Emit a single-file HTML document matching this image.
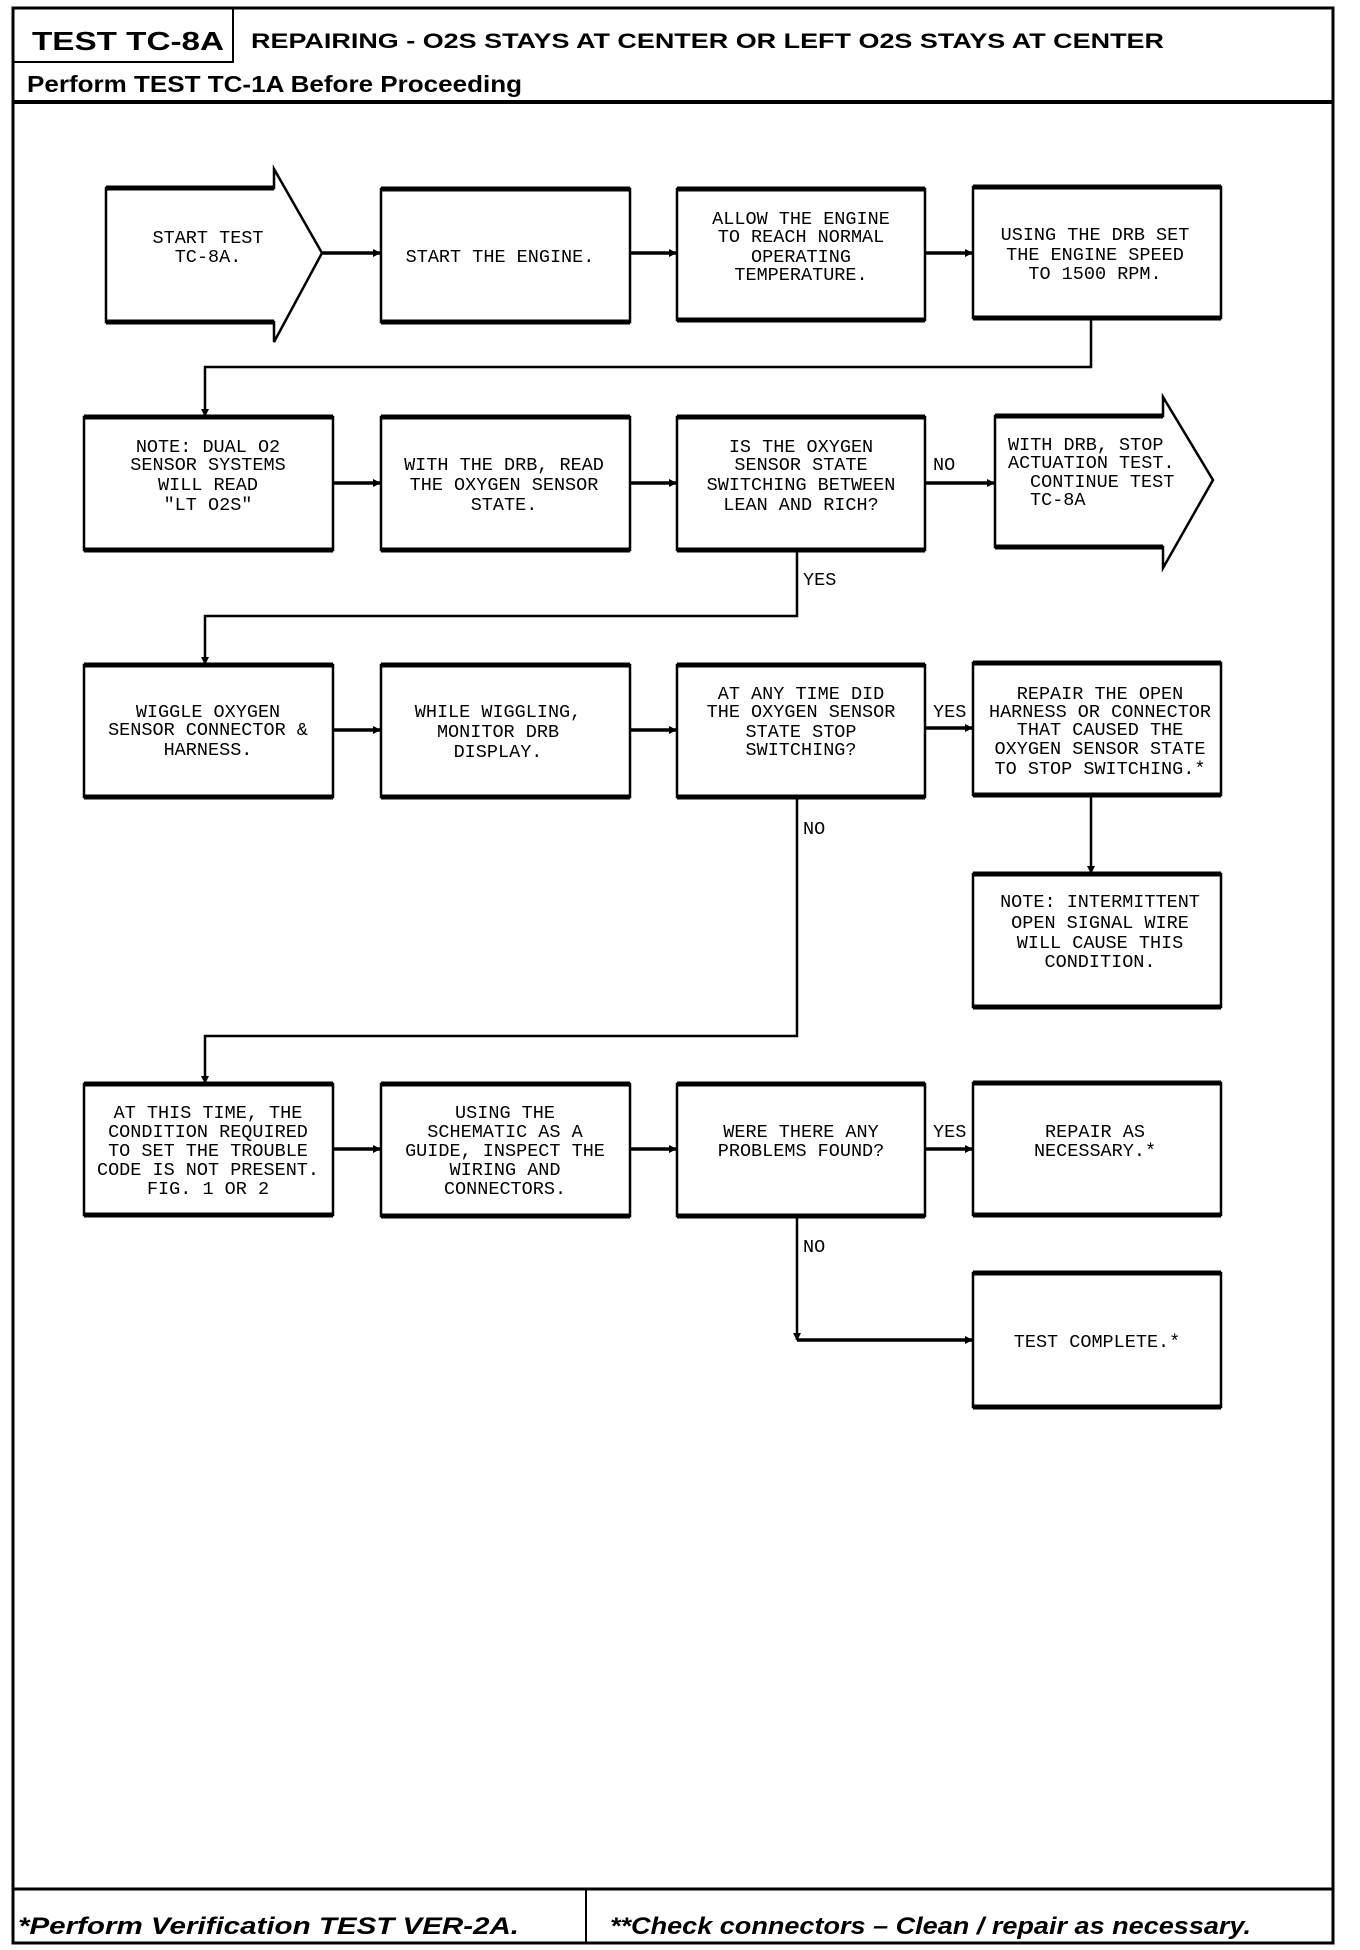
<!DOCTYPE html>
<html><head><meta charset="utf-8"><style>
html,body{margin:0;padding:0;background:#fff}
svg{display:block}
.h{font-family:"Liberation Sans",sans-serif;font-weight:bold;fill:#000}
.f{font-family:"Liberation Sans",sans-serif;font-weight:bold;font-style:italic;fill:#000}
.t{font-family:"Liberation Mono",monospace;font-size:18.5px;fill:#000;text-anchor:middle}
.ts{font-family:"Liberation Mono",monospace;font-size:18.5px;fill:#000}
</style></head><body>
<svg width="1360" height="1950" viewBox="0 0 1360 1950" xmlns="http://www.w3.org/2000/svg">
<defs>
<marker id="a" markerWidth="8" markerHeight="8" refX="7" refY="4" orient="auto" markerUnits="userSpaceOnUse">
<path d="M0,0 L8,4 L0,8 z" fill="#000"/></marker>
</defs>
<g fill="none" stroke="#000">
<!-- outer frame -->
<rect x="13" y="8" width="1320" height="1935" stroke-width="3"/>
<path d="M13 62 H233 V8" stroke-width="2"/>
<path d="M13 102 H1333" stroke-width="4"/>
<path d="M13 1889 H1333" stroke-width="3"/>
<path d="M586 1889 V1943" stroke-width="2"/>
</g>
<text class="h" x="32" y="50" font-size="26" textLength="192" lengthAdjust="spacingAndGlyphs">TEST TC-8A</text>
<text class="h" x="251" y="48" font-size="21" textLength="913" lengthAdjust="spacingAndGlyphs">REPAIRING - O2S STAYS AT CENTER OR LEFT O2S STAYS AT CENTER</text>
<text class="h" x="27" y="92" font-size="23" textLength="495" lengthAdjust="spacingAndGlyphs">Perform TEST TC-1A Before Proceeding</text>
<text class="f" x="18" y="1934" font-size="24" textLength="501" lengthAdjust="spacingAndGlyphs">*Perform Verification TEST VER-2A.</text>
<text class="f" x="610" y="1934" font-size="24" textLength="641" lengthAdjust="spacingAndGlyphs">**Check connectors – Clean / repair as necessary.</text>

<g fill="none" stroke="#000" stroke-width="2.5">
<!-- row1 -->
<path d="M106 188 H274 V169 L322 253 L274 342 V322 H106 Z"/>
<rect x="381" y="189" width="249" height="133"/>
<rect x="677" y="189" width="248" height="131"/>
<rect x="973" y="187" width="248" height="131"/>
<!-- row2 -->
<rect x="84" y="417" width="249" height="133"/>
<rect x="381" y="417" width="249" height="133"/>
<rect x="677" y="417" width="248" height="133"/>
<path d="M995 416 H1163 V397 L1213 480 L1163 568 V547 H995 Z"/>
<!-- row3 -->
<rect x="84" y="665" width="249" height="132"/>
<rect x="381" y="665" width="249" height="132"/>
<rect x="677" y="665" width="248" height="132"/>
<rect x="973" y="663" width="248" height="132"/>
<rect x="973" y="874" width="248" height="133"/>
<!-- row4 -->
<rect x="84" y="1084" width="249" height="131"/>
<rect x="381" y="1084" width="249" height="132"/>
<rect x="677" y="1084" width="248" height="132"/>
<rect x="973" y="1083" width="248" height="132"/>
<rect x="973" y="1273" width="248" height="134"/>
</g>
<!-- thick top/bottom edges -->
<g stroke="#000" stroke-width="5">
<path d="M381 189H630M381 322H630M677 189H925M677 320H925M973 187H1221M973 318H1221M106 188H274M106 322H274"/>
<path d="M84 417H333M84 550H333M381 417H630M381 550H630M677 417H925M677 550H925M995 416H1163M995 547H1163"/>
<path d="M84 665H333M84 797H333M381 665H630M381 797H630M677 665H925M677 797H925M973 663H1221M973 795H1221M973 874H1221M973 1007H1221"/>
<path d="M84 1084H333M84 1215H333M381 1084H630M381 1216H630M677 1084H925M677 1216H925M973 1083H1221M973 1215H1221M973 1273H1221M973 1407H1221"/>
</g>
<!-- connectors -->
<g fill="none" stroke="#000" stroke-width="3.5" marker-end="url(#a)">
<path d="M322 253H380"/>
<path d="M630 253H676"/>
<path d="M925 253H972"/>
<path d="M333 483H380"/>
<path d="M630 483H676"/>
<path d="M925 483H994"/>
<path d="M333 730H380"/>
<path d="M630 730H676"/>
<path d="M925 728H972"/>
<path d="M333 1149H380"/>
<path d="M630 1149H676"/>
<path d="M925 1149H972"/>
<path d="M797 1340H972"/>
</g>
<g fill="none" stroke="#000" stroke-width="2.5" marker-end="url(#a)">
<path d="M1091 318V367H205V416"/>
<path d="M797 550V616H205V664"/>
<path d="M1091 795V873"/>
<path d="M797 797V1036H205V1083"/>
<path d="M797 1216V1340"/>
</g>

<!-- row1 text -->
<g class="t">
<text x="208" y="243">START TEST</text><text x="208" y="262">TC-8A.</text>
<text x="500" y="262">START THE ENGINE.</text>
<text x="801" y="224">ALLOW THE ENGINE</text><text x="801" y="242">TO REACH NORMAL</text><text x="801" y="262">OPERATING</text><text x="801" y="280">TEMPERATURE.</text>
<text x="1095" y="240">USING THE DRB SET</text><text x="1095" y="260">THE ENGINE SPEED</text><text x="1095" y="279">TO 1500 RPM.</text>
<!-- row2 -->
<text x="208" y="452">NOTE: DUAL O2</text><text x="208" y="470">SENSOR SYSTEMS</text><text x="208" y="490">WILL READ</text><text x="208" y="510">"LT O2S"</text>
<text x="504" y="470">WITH THE DRB, READ</text><text x="504" y="490">THE OXYGEN SENSOR</text><text x="504" y="510">STATE.</text>
<text x="801" y="452">IS THE OXYGEN</text><text x="801" y="470">SENSOR STATE</text><text x="801" y="490">SWITCHING BETWEEN</text><text x="801" y="510">LEAN AND RICH?</text>
<!-- row3 -->
<text x="208" y="717">WIGGLE OXYGEN</text><text x="208" y="735">SENSOR CONNECTOR &amp;</text><text x="208" y="755">HARNESS.</text>
<text x="498" y="717">WHILE WIGGLING,</text><text x="498" y="737">MONITOR DRB</text><text x="498" y="757">DISPLAY.</text>
<text x="801" y="699">AT ANY TIME DID</text><text x="801" y="717">THE OXYGEN SENSOR</text><text x="801" y="737">STATE STOP</text><text x="801" y="755">SWITCHING?</text>
<text x="1100" y="699">REPAIR THE OPEN</text><text x="1100" y="717">HARNESS OR CONNECTOR</text><text x="1100" y="735">THAT CAUSED THE</text><text x="1100" y="754">OXYGEN SENSOR STATE</text><text x="1100" y="774">TO STOP SWITCHING.*</text>
<text x="1100" y="907">NOTE: INTERMITTENT</text><text x="1100" y="928">OPEN SIGNAL WIRE</text><text x="1100" y="948">WILL CAUSE THIS</text><text x="1100" y="967">CONDITION.</text>
<!-- row4 -->
<text x="208" y="1118">AT THIS TIME, THE</text><text x="208" y="1137">CONDITION REQUIRED</text><text x="208" y="1156">TO SET THE TROUBLE</text><text x="208" y="1175">CODE IS NOT PRESENT.</text><text x="208" y="1194">FIG. 1 OR 2</text>
<text x="505" y="1118">USING THE</text><text x="505" y="1137">SCHEMATIC AS A</text><text x="505" y="1156">GUIDE, INSPECT THE</text><text x="505" y="1175">WIRING AND</text><text x="505" y="1194">CONNECTORS.</text>
<text x="801" y="1137">WERE THERE ANY</text><text x="801" y="1156">PROBLEMS FOUND?</text>
<text x="1095" y="1137">REPAIR AS</text><text x="1095" y="1156">NECESSARY.*</text>
<text x="1097" y="1347">TEST COMPLETE.*</text>
</g>
<g class="ts">
<text x="1008" y="450">WITH DRB, STOP</text><text x="1008" y="468">ACTUATION TEST.</text><text x="1030" y="487">CONTINUE TEST</text><text x="1030" y="505">TC-8A</text>
<text x="933" y="470">NO</text>
<text x="803" y="585">YES</text>
<text x="933" y="717">YES</text>
<text x="803" y="834">NO</text>
<text x="933" y="1137">YES</text>
<text x="803" y="1252">NO</text>
</g>
</svg>
</body></html>
